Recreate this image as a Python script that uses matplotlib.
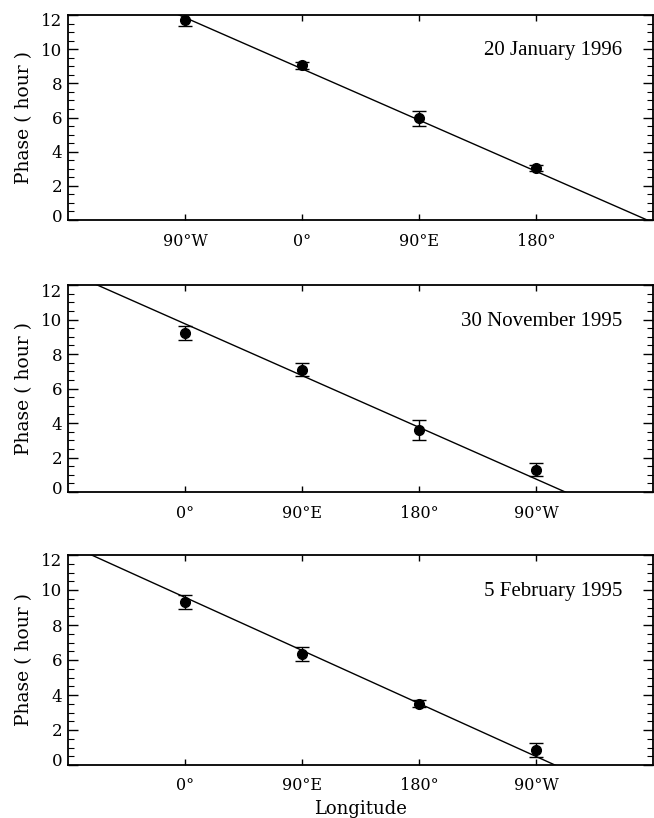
import numpy as np
import matplotlib
matplotlib.use("Agg")
import matplotlib.pyplot as plt
from matplotlib.transforms import ScaledTranslation

# ---------------- data ----------------
titles = ["20 January 1996", "30 November 1995", "5 February 1995"]

lon1 = [-90, 0, 90, 180]
lab1 = ["90°W", "0°", "90°E", "180°"]
phase1 = [11.7, 9.05, 5.95, 3.05]
err1 = [0.35, 0.2, 0.42, 0.17]
fit1 = (8.85, -1 / 30.0)          # (phase at 0°, slope hour/deg)

lon2 = [0, 90, 180, 270]
lab2 = ["0°", "90°E", "180°", "90°W"]
phase2 = [9.2, 7.1, 3.6, 1.3]
err2 = [0.4, 0.4, 0.6, 0.4]
fit2 = (9.75, -1 / 30.0)

lon3 = [0, 90, 180, 270]
lab3 = ["0°", "90°E", "180°", "90°W"]
phase3 = [9.3, 6.35, 3.5, 0.85]
err3 = [0.4, 0.4, 0.2, 0.42]
fit3 = (9.58, -1 / 29.7)

xlims = [(-180, 270), (-90, 360), (-90, 360)]
yticks = [0, 2, 4, 6, 8, 10, 12]

# ---------------- figure ----------------
W, H = 654, 818
fig = plt.figure(figsize=(W / 100, H / 100), dpi=100)

# axes boxes in pixels: (left, top, right, bottom)
boxes = [(68, 15, 653, 220), (68, 285, 653, 492), (68, 555, 653, 765)]

serif = "DejaVu Serif"
times = "Liberation Serif"

panels = [
    (lon1, lab1, phase1, err1, fit1),
    (lon2, lab2, phase2, err2, fit2),
    (lon3, lab3, phase3, err3, fit3),
]

for i, ((lon, lab, ph, er, fit), box, xl, title) in enumerate(zip(panels, boxes, xlims, titles)):
    l, t, r, b = box
    ax = fig.add_axes([l / W, 1 - b / H, (r - l) / W, (b - t) / H])
    ax.set_xlim(*xl)
    ax.set_ylim(0, 12)

    xs = np.array(ax.get_xlim())
    ax.plot(xs, fit[0] + fit[1] * xs, color="black", lw=1.0, zorder=2)
    ax.errorbar(lon, ph, yerr=er, fmt="o", color="black", ms=7,
                elinewidth=1.0, capsize=5, capthick=1.0, zorder=3)

    ax.set_xticks(lon)
    ax.set_xticklabels(lab, fontfamily=serif, fontsize=11.5)
    ax.set_yticks(yticks)
    ax.set_yticklabels([str(v) for v in yticks], fontfamily=serif, fontsize=12)
    ax.set_yticks(np.arange(0, 12.01, 0.5), minor=True)

    ax.tick_params(axis="x", which="major", direction="in", length=4, width=1,
                   top=True, bottom=True, pad=9)
    ax.tick_params(axis="y", which="major", direction="in", length=7, width=1,
                   left=True, right=True, pad=4)
    ax.tick_params(axis="y", which="minor", direction="in", length=4, width=0.8,
                   left=True, right=True)
    for sp in ax.spines.values():
        sp.set_linewidth(1.3)

    ax.set_ylabel("Phase ( hour )", fontfamily=serif, fontsize=13.5, labelpad=6)
    ax.text(0.948, 0.825, title, transform=ax.transAxes, ha="right", va="center",
            fontfamily=times, fontsize=15)

    # shift the end labels inward as in the original
    yt = ax.yaxis.get_major_ticks()
    off = 5 / 100.0
    yt[0].label1.set_transform(yt[0].label1.get_transform()
                               + ScaledTranslation(0, off, fig.dpi_scale_trans))
    yt[-1].label1.set_transform(yt[-1].label1.get_transform()
                                + ScaledTranslation(0, -off, fig.dpi_scale_trans))

    if i == 2:
        ax.set_xlabel("Longitude", fontfamily=serif, fontsize=13, labelpad=4)

fig.savefig("out.png", dpi=100)
